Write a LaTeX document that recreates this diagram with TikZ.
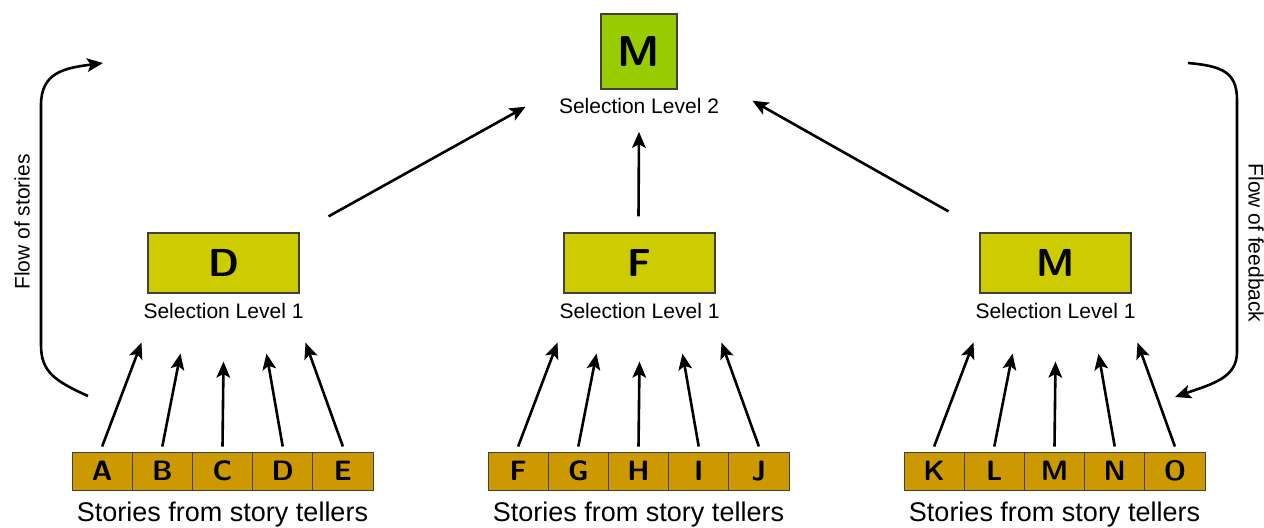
\documentclass[tikz,border=0pt]{standalone}
\usepackage{fontspec}
\setmainfont{Liberation Sans}
\usepackage{xcolor}
\usepackage{tikz}
\usetikzlibrary{arrows.meta, positioning}
\definecolor{lvtwo}{HTML}{99CC00}
\definecolor{lvone}{HTML}{CCCC00}
\definecolor{story}{HTML}{CC9900}
\tikzset{
    topbox/.style={rectangle, draw=black!75, line width=0.6pt, fill=lvtwo, minimum width=38pt, minimum height=37.5pt, inner sep=0pt, font=\sffamily\bfseries\fontsize{21.6}{24}\selectfont},
    midbox/.style={rectangle, draw=black!75, line width=0.6pt, fill=lvone, minimum width=75.5pt, minimum height=30pt, inner sep=0pt, font=\sffamily\bfseries\fontsize{19.5}{22}\selectfont},
    cellbox/.style={rectangle, draw=black!75, line width=0.5pt, fill=story, minimum width=30.1pt, minimum height=19pt, inner sep=0pt, font=\sffamily\bfseries\fontsize{14}{16}\selectfont},
    caption/.style={inner sep=0pt, font=\fontsize{10.5}{12}\selectfont},
    storycap/.style={inner sep=0pt, font=\fontsize{13.5}{15}\selectfont},
    arrow/.style={-{Stealth[length=8pt, width=6.8pt, inset=1.8pt]}, line width=1.3pt}
}
\begin{document}
\begin{tikzpicture}[x=0.5pt, y=-0.5pt, node distance=4pt]
    \useasboundingbox (0,0) rectangle (1264,527);
    % level 2
    \node (lv2) [topbox] at (639,51.5) {M};
    \node (lv2lab) [caption, below=4pt of lv2] {Selection Level 2};

    % level 1 and the story tellers
    \foreach \grp/\cx/\boss/\cells in {a/222.5/D/{A,B,C,D,E}, b/638.5/F/{F,G,H,I,J}, c/1054.5/M/{K,L,M,N,O}} {
        \node (lv1\grp) [midbox] at (\cx+1,263) {\boss};
        \node (lab\grp) [caption, below=4.5pt of lv1\grp] {Selection Level 1};
        \foreach \c [count=\i] in \cells {
            \node (cell\grp\i) [cellbox] at (\cx+60.2*\i-180.6,471) {\c};
        }
        \node (src\grp) [storycap, below=5.5pt of cell\grp3] {Stories from story tellers};
        \foreach \i/\dx/\dy in {1/-82/49, 2/-43/60, 3/0/68, 4/43/60, 5/82/49} {
            \draw[arrow] ([yshift=2.5pt]cell\grp\i.north) -- ([shift={(\dx,\dy)}]lv1\grp.south);
        }
    }

    % level 1 to level 2
    \draw[arrow] ([shift={(105,-16)}]lv1a.north) -- ([shift={(-33,1)}]lv2lab.west);
    \draw[arrow] ([shift={(-1,-16)}]lv1b.north) -- ([shift={(0,18)}]lv2lab.south);
    \draw[arrow] ([shift={(-107,-21)}]lv1c.north) -- ([shift={(33,-5)}]lv2lab.east);

    % flows
    \coordinate (fsa) at (88,396);
    \coordinate (fsb) at (103,63);
    \coordinate (fba) at (1188,63);
    \coordinate (fbb) at (1175,397);
    \draw[arrow] (fsa) .. controls (55,381) and (41,372) .. (41,345) -- (41,105) .. controls (41,72) and (65,68) .. (fsb);
    \draw[arrow] (fba) .. controls (1222,66) and (1237,72) .. (1237,100) -- (1237,352) .. controls (1237,378) and (1212,384) .. (fbb);
    \node (fsl) [caption, rotate=90] at (22,222) {Flow of stories};
    \node (fbl) [caption, rotate=-90] at (1256,243) {Flow of feedback};
\end{tikzpicture}
\end{document}
